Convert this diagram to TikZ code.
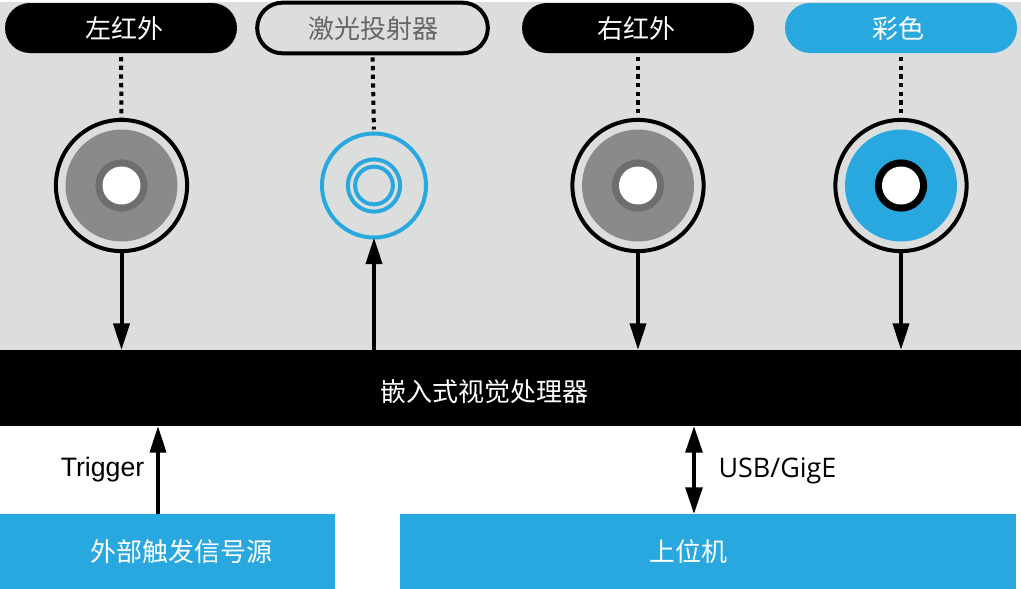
\documentclass[tikz,border=0pt]{standalone}
\usepackage{fontspec}
\usepackage{tikz}
\usetikzlibrary{arrows.meta}
\usetikzlibrary{shapes.misc}
\setmainfont{Liberation Sans}
\newfontfamily\cjk{Noto Sans CJK SC}
\newfontfamily\segoe{Open Sans}
\definecolor{panelgray}{HTML}{DCDEDD}
\definecolor{lensblue}{HTML}{29A8E0}
\definecolor{lensgray}{HTML}{8A8A8A}
\definecolor{ringgray}{HTML}{6D6E70}
\definecolor{labelgray}{HTML}{666666}
\tikzset{pill/.style = {rounded rectangle, fill, outer sep = 0, inner sep = 0, minimum width = 174pt, minimum height = 37.5pt},
  cam/.style = {circle, draw, line width = 3pt, outer sep = 0, inner sep = 0, minimum size = 98.4pt},
  disc/.style = {circle, fill, outer sep = 0, inner sep = 0},
  band/.style = {rectangle, outer sep = 0, inner sep = 0},
  words/.style = {inner sep = 0, text = white, font = \cjk\fontsize{19.5}{22}\selectfont},
  dots/.style = {line width = 3pt, dash pattern = on 3.2pt off 3.3pt, shorten < = 3pt},
  flow/.style = {line width = 3pt, -{Triangle[length = 20pt, width = 12pt]}},
  bothflow/.style = {line width = 3pt, {Triangle[length = 20pt, width = 12.5pt]}-{Triangle[length = 20pt, width = 12.5pt]}}}

\begin{document}
\begin{tikzpicture}[x=0.75pt, y=-0.75pt]
      \useasboundingbox [fill = white] (0, 0) rectangle (1021, 589);
      \fill [panelgray] (0, 2) rectangle (1021, 350);

      \node [band, fill = black, minimum width = 765.75pt, minimum height = 57pt] (proc) at (510.5, 388) {};
      \node [band, fill = lensblue, minimum width = 251.25pt, minimum height = 56.25pt] (trigsrc) at (167.5, 551.5) {};
      \node [band, fill = lensblue, minimum width = 462pt, minimum height = 56.25pt] (host) at (708, 551.5) {};
      \node [words] (proctext) at (484.5, 392) {嵌入式视觉处理器};
      \node [words] (trigtext) at (181, 552) {外部触发信号源};
      \node [words] (hosttext) at (688.5, 552) {上位机};

      \node [pill] (leftlabel) at (121, 28) {};
      \node [pill, draw, fill = panelgray, line width = 3pt, minimum width = 173pt, minimum height = 38pt] (laserlabel) at (372.5, 28) {};
      \node [pill] (rightlabel) at (638, 28) {};
      \node [pill, fill = lensblue] (colorlabel) at (901, 28) {};
      \node [words] (lefttext) at (124.5, 29) {左红外};
      \node [words, text = labelgray] (lasertext) at (373, 29) {激光投射器};
      \node [words] (righttext) at (636, 29) {右红外};
      \node [words] (colortext) at (898, 29) {彩色};

% left infrared
      \node [cam] (leftcam) at (121.5, 185.5) {};
      \node [disc, fill = lensgray, minimum size = 84pt] at (leftcam) {};
      \node [disc, fill = ringgray, minimum size = 39.2pt] at (leftcam) {};
      \node [disc, fill = white, minimum size = 28.5pt] at (leftcam) {};
% laser
      \node [cam, draw = lensblue, minimum size = 78pt] (lasercam) at (374, 185.5) {};
      \node [cam, draw = lensblue, minimum size = 39.2pt] at (lasercam) {};
      \node [cam, draw = lensblue, minimum size = 28.3pt] at (lasercam) {};
% right infrared
      \node [cam] (rightcam) at (638, 185.5) {};
      \node [disc, fill = lensgray, minimum size = 84pt] at (rightcam) {};
      \node [disc, fill = ringgray, minimum size = 39.2pt] at (rightcam) {};
      \node [disc, fill = white, minimum size = 28.5pt] at (rightcam) {};
% color
      \node [cam] (colorcam) at (901, 185.5) {};
      \node [disc, fill = lensblue, minimum size = 84pt] at (colorcam) {};
      \node [disc, fill = black, minimum size = 39.2pt] at (colorcam) {};
      \node [disc, fill = white, minimum size = 28.5pt] at (colorcam) {};

      \draw [dots] (leftlabel.south) -- (leftcam.north);
      \draw [dots, shorten > = 3pt] (laserlabel.south) -- (lasercam.north);
      \draw [dots] (rightlabel.south) -- (rightcam.north);
      \draw [dots, shorten > = 3pt] (colorlabel.south) -- (colorcam.north);

      \draw [flow] (leftcam.south) -- (leftcam.south |- proc.north);
      \draw [flow] (lasercam.south |- proc.north) -- (lasercam.south);
      \draw [flow] (rightcam.south) -- (rightcam.south |- proc.north);
      \draw [flow] (colorcam.south) -- (colorcam.south |- proc.north);

      \coordinate (trigfoot) at (158, 514);
      \coordinate (hostfoot) at (694, 514);
      \draw [flow] (trigfoot) -- (trigfoot |- proc.south);
      \draw [bothflow] (hostfoot) -- (hostfoot |- proc.south);

      \node [font = \fontsize{20}{24}\selectfont, inner sep = 0] (triglabel) at (102.5, 470) {Trigger};
      \node [font = \segoe\fontsize{20.2}{24}\selectfont, inner sep = 0] (usblabel) at (777.5, 470.5) {USB/GigE};
    \end{tikzpicture}
\end{document}
